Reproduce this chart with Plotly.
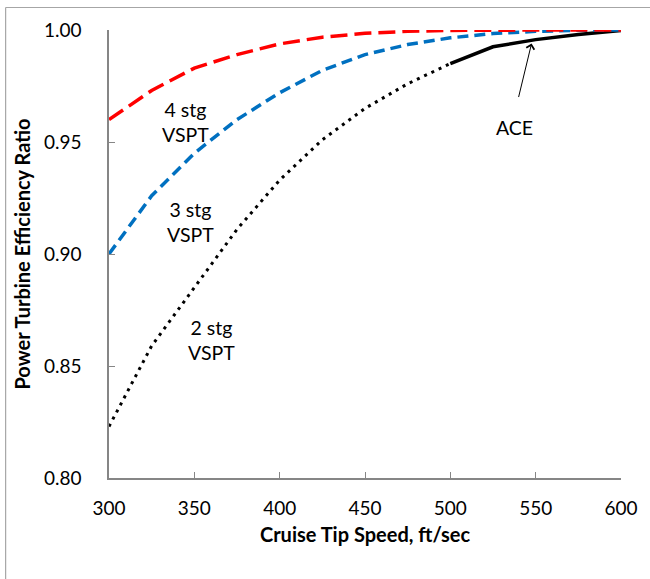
import plotly.graph_objects as go

speed = [300, 325, 350, 375, 400, 425, 450, 475, 500, 525, 550, 575, 600]
eff_4stg = [0.960, 0.973, 0.983, 0.989, 0.9938, 0.9968, 0.9985, 0.9994, 0.9998, 1.0, 1.0, 1.0, 1.0]
eff_3stg = [0.900, 0.926, 0.945, 0.960, 0.972, 0.982, 0.989, 0.9935, 0.9965, 0.9984, 0.9994, 0.9999, 1.0]
speed_2stg = [300, 325, 350, 375, 400, 425, 450, 475, 500]
eff_2stg = [0.823, 0.859, 0.885, 0.911, 0.933, 0.951, 0.965, 0.976, 0.985]
speed_ace = [500, 525, 550, 575, 600]
eff_ace = [0.985, 0.9925, 0.9957, 0.998, 0.9998]

x_ticks = [300, 350, 400, 450, 500, 550, 600]
y_ticks = [0.80, 0.85, 0.90, 0.95, 1.00]

FONT = "Lato"
fig = go.Figure()
fig.add_trace(go.Scatter(x=speed_2stg, y=eff_2stg, mode="lines",
                         line=dict(color="black", width=3, dash="3px,5px")))
fig.add_trace(go.Scatter(x=speed_ace, y=eff_ace, mode="lines",
                         line=dict(color="black", width=3.5)))
fig.add_trace(go.Scatter(x=speed, y=eff_3stg, mode="lines",
                         line=dict(color="#0070C0", width=3.5, dash="11px,6px")))
fig.add_trace(go.Scatter(x=speed, y=eff_4stg, mode="lines",
                         line=dict(color="#FF0000", width=3.5, dash="17px,7px")))

ann_font = dict(family=FONT, size=19.5, color="black")
annotations = [
    dict(x=344.9, y=0.9589, text="4 stg<br>VSPT"),
    dict(x=347.8, y=0.9141, text="3 stg<br>VSPT"),
    dict(x=360.3, y=0.8616, text="2 stg<br>VSPT"),
    dict(x=537.8, y=0.9565, text="ACE"),
]
for a in annotations:
    fig.add_annotation(x=a["x"], y=a["y"], text=a["text"], showarrow=False,
                       font=ann_font, xref="x", yref="y", align="center")
fig.add_annotation(x=547.6, y=0.9940, ax=539.8, ay=0.9694, axref="x", ayref="y",
                   xref="x", yref="y", text="", showarrow=True,
                   arrowhead=4, arrowsize=1.6, arrowwidth=1, arrowcolor="black")

fig.add_shape(type="line", xref="paper", yref="paper", x0=-0.2019, x1=-0.2019,
              y0=-0.3, y1=1.0502, line=dict(color="#a6a6a6", width=1.2))
fig.add_shape(type="line", xref="paper", yref="paper", x0=-0.2019, x1=1.2,
              y0=1.0502, y1=1.0502, line=dict(color="#a6a6a6", width=1.2))

axis_common = dict(showgrid=False, zeroline=False, showline=True, linecolor="#868686",
                   linewidth=1.5, ticks="inside", ticklen=6, tickcolor="#868686",
                   tickwidth=1.2, tickfont=dict(family=FONT, size=19, color="black"),
                   mirror=False)
fig.update_layout(
    width=650, height=579, margin=dict(l=109, r=26, t=30, b=101),
    paper_bgcolor="white", plot_bgcolor="white", showlegend=False,
    xaxis=dict(range=[300, 600], tickvals=x_ticks, ticktext=[str(v) for v in x_ticks],
               ticklabelstandoff=12,
               title=dict(text="Cruise Tip Speed, ft/sec", standoff=10,
                          font=dict(family=FONT, size=20, color="black", weight="bold")),
               **axis_common),
    yaxis=dict(range=[0.80, 1.00], tickvals=y_ticks, ticktext=[f"{v:.2f}" for v in y_ticks],
               ticklabelstandoff=22,
               title=dict(text="Power Turbine Efficiency Ratio", standoff=8,
                          font=dict(family=FONT, size=20, color="black", weight="bold")),
               **axis_common),
)
fig.write_html("out.html")
